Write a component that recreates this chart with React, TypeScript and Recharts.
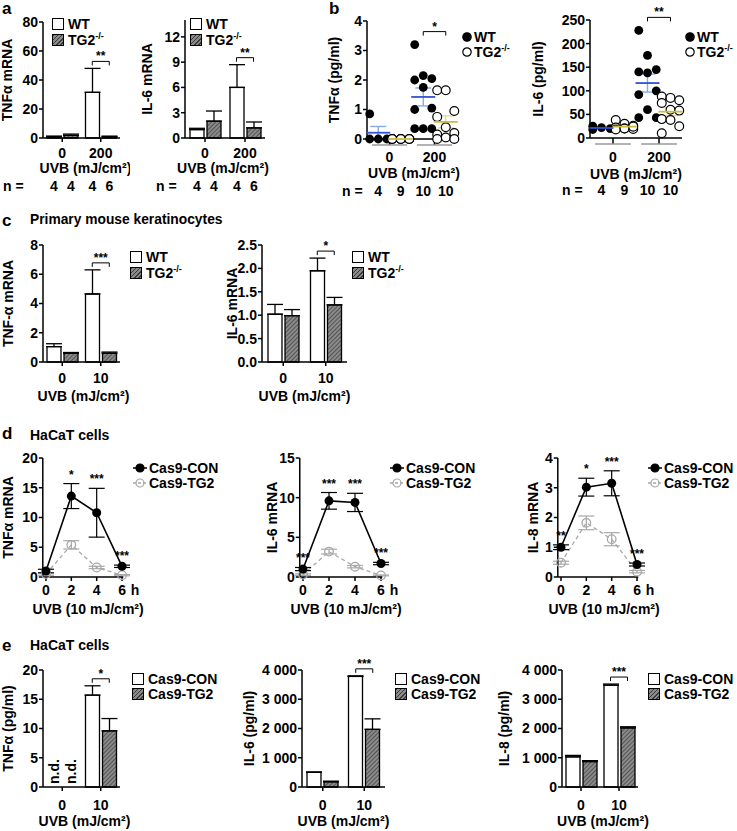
import React from 'react'
import {
  Bar,
  ComposedChart,
  ErrorBar,
  LabelList,
  Legend,
  Line,
  ReferenceDot,
  Scatter,
  ScatterChart,
  XAxis,
  YAxis,
} from 'recharts'

const FONT = '"Liberation Sans", Arial, Helvetica, sans-serif'
const FS = 14
const CAP = FS * 0.355
const GREY = '#a8a8a8'
const HATCH_BG = '#8a8a8a'
const HATCH_LINE = '#3c3c3c'
const BLUE = '#2f52d6'
const BLUE_SEM = '#86a8ee'
const OLIVE = '#c8bd3c'
const OLIVE_SEM = '#e2db8c'
const BAR_SIZE = 14
const BAR_GAP = 3
const AX = { stroke: '#000', strokeWidth: 1.5 }
const TICK = { fill: '#000', fontSize: FS }

const genotypes = ['WT', 'TG2-/-']
const clones = ['Cas9-CON', 'Cas9-TG2']

// a: skin mRNA after UVB
const dosesA = ['0', '200']
const nA_wt = [4, 4]
const nA_ko = [4, 6]
const tnfA_wt = [1.0, 31.5]
const tnfA_wtSem = [0.3, 16.5]
const tnfA_ko = [1.8, 0.9]
const tnfA_koSem = [0.9, 0.4]
const tnfA_ticks = [0, 20, 40, 60, 80]
const tnfA_sig = ['', '**']
const il6A_wt = [1.0, 6.0]
const il6A_wtSem = [0.15, 2.7]
const il6A_ko = [2.0, 1.2]
const il6A_koSem = [1.2, 0.7]
const il6A_ticks = [0, 3, 6, 9, 12]
const il6A_sig = ['', '**']

// b: serum cytokines, one value per mouse
const dosesB = ['0', '200']
const tnfB_wt0 = [0.85, 0, 0, 0]
const tnfB_ko0 = [0, 0, 0, 0, 0, 0, 0, 0, 0]
const tnfB_wt200 = [3.2, 2.15, 2.05, 2.0, 1.75, 1.05, 1.0, 0.35, 0.35, 0.35]
const tnfB_ko200 = [1.65, 1.65, 0.95, 0.75, 0.4, 0.2, 0.15, 0.05, 0, 0]
const tnfB_ticks = [0, 1, 2, 3, 4]
const il6B_wt0 = [25, 22, 20, 18]
const il6B_ko0 = [38, 30, 26, 22, 20, 19, 18, 20, 24]
const il6B_wt200 = [228, 175, 145, 140, 138, 100, 92, 60, 43, 43]
const il6B_ko200 = [88, 85, 80, 74, 60, 58, 40, 38, 25, 10]
const il6B_ticks = [0, 50, 100, 150, 200, 250]

// c: primary keratinocytes
const dosesC = ['0', '10']
const tnfC_wt = [1.05, 4.65]
const tnfC_wtSem = [0.2, 1.65]
const tnfC_ko = [0.6, 0.6]
const tnfC_koSem = [0.05, 0.08]
const tnfC_ticks = [0, 2, 4, 6, 8]
const tnfC_sig = ['', '***']
const il6C_wt = [1.02, 1.95]
const il6C_wtSem = [0.21, 0.27]
const il6C_ko = [0.99, 1.22]
const il6C_koSem = [0.13, 0.16]
const il6C_ticks = [0, 0.5, 1, 1.5, 2, 2.5]
const il6C_sig = ['', '*']

// d: HaCaT time course
const hours = [0, 2, 4, 6]
const tnfD_con = [1.0, 13.6, 10.8, 1.8]
const tnfD_conSem = [0.3, 2.1, 4.1, 0.2]
const tnfD_tg2 = [0.5, 5.4, 1.6, 0.3]
const tnfD_tg2Sem = [0.2, 0.7, 0.2, 0.1]
const tnfD_stars = ['', '*', '***', '***']
const tnfD_ticks = [0, 5, 10, 15, 20]
const il6D_con = [1.0, 9.6, 9.4, 1.7]
const il6D_conSem = [0.2, 1.05, 1.15, 0.15]
const il6D_tg2 = [0.3, 3.2, 1.3, 0.2]
const il6D_tg2Sem = [0.1, 0.3, 0.15, 0.05]
const il6D_stars = ['***', '***', '***', '***']
const il6D_ticks = [0, 5, 10, 15]
const il8D_con = [1.0, 3.02, 3.15, 0.42]
const il8D_conSem = [0.08, 0.3, 0.42, 0.05]
const il8D_tg2 = [0.48, 1.82, 1.27, 0.18]
const il8D_tg2Sem = [0.05, 0.23, 0.22, 0.04]
const il8D_stars = ['**', '*', '***', '***']
const il8D_ticks = [0, 1, 2, 3, 4]

// e: HaCaT secreted cytokines (null = not detected)
const dosesE = ['0', '10']
const tnfE_con = [null, 15.7]
const tnfE_conSem = [0, 1.6]
const tnfE_tg2 = [null, 9.6]
const tnfE_tg2Sem = [0, 2.1]
const tnfE_ticks = [0, 5, 10, 15, 20]
const tnfE_sig = ['', '*']
const il6E_con = [500, 3780]
const il6E_conSem = [15, 20]
const il6E_tg2 = [180, 1970]
const il6E_tg2Sem = [20, 360]
const il6E_sig = ['', '***']
const il8E_con = [1030, 3480]
const il8E_conSem = [50, 40]
const il8E_tg2 = [870, 2020]
const il8E_tg2Sem = [30, 40]
const il8E_sig = ['', '***']
const pgTicks = [0, 1000, 2000, 3000, 4000]

const hatchCss = `repeating-linear-gradient(135deg, ${HATCH_LINE} 0 1px, ${HATCH_BG} 1px 3px)`

const mean = (v: number[]) => v.reduce((s, x) => s + x, 0) / v.length
const sem = (v: number[]) => {
  const m = mean(v)
  const sd = Math.sqrt(v.reduce((s, x) => s + (x - m) ** 2, 0) / (v.length - 1))
  return sd / Math.sqrt(v.length)
}
const thousands = (v: number) => String(v).replace(/\B(?=(\d{3})+(?!\d))/g, ' ')
const oneDecimal = (v: number) => v.toFixed(1)

type Plot = { x0: number; y0: number; x1: number; y1: number }

function frame(plot: Plot, labelX: number, right: number, bottom: number, head = 30) {
  const left = Math.max(0, Math.floor(labelX - 12))
  const top = plot.y0 - head
  return {
    left,
    top,
    width: right - left,
    height: bottom - top,
    margin: { top: head, right: right - plot.x1, bottom: 0, left: 0 },
    yw: plot.x0 - left,
    xh: bottom - plot.y1,
    labelOffset: labelX - left,
  }
}

const yLabel = (value: string, offset: number) => ({
  value,
  angle: -90,
  position: 'insideLeft',
  offset,
  fill: '#000',
  fontSize: FS,
  style: { textAnchor: 'middle' },
})

const xLabel = (value: string, offset: number, dx = 0) => ({
  value,
  position: 'insideTop',
  offset,
  dx,
  fill: '#000',
  fontSize: FS,
})

function Name({ value }: { value: string }) {
  if (value.endsWith('-/-')) {
    return (
      <>
        {value.slice(0, -3)}
        <sup style={{ fontSize: '0.65em', lineHeight: 0 }}>-/-</sup>
      </>
    )
  }
  return <>{value}</>
}

function KeyMark({ kind, second }: { kind: string; second: boolean }) {
  if (kind === 'box') {
    return (
      <span
        style={{
          display: 'inline-block',
          width: 10,
          height: 10,
          border: '1px solid #000',
          background: second ? hatchCss : '#fff',
          marginRight: 4,
        }}
      />
    )
  }
  if (kind === 'dot') {
    return (
      <svg width={10} height={10} style={{ marginRight: 2 }}>
        <circle cx={5} cy={5} r={4.2} fill={second ? '#fff' : '#000'} stroke="#000" strokeWidth={1.2} />
      </svg>
    )
  }
  const c = second ? GREY : '#000'
  return (
    <svg width={14} height={10} style={{ marginRight: 2 }}>
      <line x1={0} x2={14} y1={5} y2={5} stroke={c} strokeWidth={1.5} strokeDasharray={second ? '3 2' : undefined} />
      <circle cx={7} cy={5} r={4} fill={second ? 'none' : '#000'} stroke={c} strokeWidth={1.2} />
    </svg>
  )
}

function Key({ names, kind, gap }: { names: string[]; kind: string; gap: number }) {
  return (
    <div style={{ fontSize: FS, fontWeight: 700, color: '#000', lineHeight: 1 }}>
      {names.map((name, i) => (
        <div key={name} style={{ display: 'flex', alignItems: 'center', height: gap, whiteSpace: 'nowrap' }}>
          <KeyMark kind={kind} second={i === 1} />
          <span>
            <Name value={name} />
          </span>
        </div>
      ))}
    </div>
  )
}

function PageText({ x, y, size = FS, children }: { x: number; y: number; size?: number; children: React.ReactNode }) {
  return (
    <div style={{ position: 'absolute', left: x, top: y - size / 2, fontSize: size, lineHeight: `${size}px`, whiteSpace: 'nowrap' }}>
      {children}
    </div>
  )
}

// n per group, written on one row under the axis label
const nLabel = (rowY: number) => (props: any) => {
  const vb = props.viewBox || props
  if (props.value === '' || props.value == null) return null
  const cx = vb.cx != null ? vb.cx : vb.x + (vb.width || 0) / 2
  return (
    <text x={cx} y={rowY} textAnchor="middle" fontSize={FS} fill="#000">
      {props.value}
    </text>
  )
}

const bracket = (text: string, half: number, lift: number) => (d: any) => {
  const y = d.cy - lift
  return (
    <g>
      <path d={`M${d.cx - half},${y + 4}V${y}H${d.cx + half}V${y + 4}`} fill="none" stroke="#000" strokeWidth={1} />
      <text x={d.cx} y={y - 1} textAnchor="middle" fontSize={12} fill="#000">
        {text}
      </text>
    </g>
  )
}

// "n.d." written upright on the baseline where a bar is missing
const notDetected = (left: boolean, right: boolean, half: number) => (d: any) => {
  const one = (cx: number) => {
    const x = cx + CAP
    const y = d.cy - 3
    return (
      <text x={x} y={y} transform={`rotate(-90 ${x} ${y})`} fontSize={FS} fill="#000">
        n.d.
      </text>
    )
  }
  return (
    <g>
      {left && one(d.cx - half)}
      {right && one(d.cx + half)}
    </g>
  )
}

const starShape = (text: string) => (d: any) => (
  <text x={d.cx} y={d.cy - 5} textAnchor="middle" fontSize={12} fill="#000">
    {text}
  </text>
)

type BarPanelProps = {
  plot: Plot
  labelX: number
  right: number
  bottom: number
  yLabel: string
  xLabel: string
  yMax: number
  ticks: number[]
  tickFormat?: (v: number) => string
  doses: string[]
  con: (number | null)[]
  conSem: number[]
  ko: (number | null)[]
  koSem: number[]
  sig: string[]
  names: string[]
  legendAt: { x: number; y: number }
  legendGap: number
  tickLabelY: number
  xLabelY: number
  xLabelDx?: number
  n?: { y: number; con: number[]; ko: number[] }
}

function BarPanel(p: BarPanelProps) {
  const f = frame(p.plot, p.labelX, p.right, p.bottom)
  const half = (BAR_SIZE + BAR_GAP) / 2
  const rows = p.doses.map((dose, i) => ({
    dose,
    con: p.con[i],
    conErr: [0, p.conSem[i]],
    conN: p.n ? p.n.con[i] : '',
    ko: p.ko[i],
    koErr: [0, p.koSem[i]],
    koN: p.n ? p.n.ko[i] : '',
  }))
  const rowY = p.n ? p.n.y + CAP - f.top : 0
  return (
    <div style={{ position: 'absolute', left: f.left, top: f.top }}>
      <ComposedChart width={f.width} height={f.height} data={rows} margin={f.margin} barSize={BAR_SIZE} barGap={BAR_GAP}>
        <defs>
          <pattern id="hatch" width={3} height={3} patternUnits="userSpaceOnUse" patternTransform="rotate(45)">
            <rect width={3} height={3} fill={HATCH_BG} />
            <line x1={0} y1={0} x2={0} y2={3} stroke={HATCH_LINE} strokeWidth={1.4} />
          </pattern>
        </defs>
        <XAxis
          dataKey="dose"
          height={f.xh}
          stroke="#000"
          axisLine={AX}
          tickLine={AX}
          tickSize={4}
          tickMargin={p.tickLabelY - p.plot.y1 - 4 - CAP}
          tick={TICK}
          label={xLabel(p.xLabel, p.xLabelY - CAP - p.plot.y1, p.xLabelDx)}
        />
        <YAxis
          width={f.yw}
          domain={[0, p.yMax]}
          ticks={p.ticks}
          interval={0}
          tickFormatter={p.tickFormat}
          stroke="#000"
          axisLine={AX}
          tickLine={AX}
          tickSize={4}
          tickMargin={1}
          tick={TICK}
          label={yLabel(p.yLabel, f.labelOffset)}
        />
        <Bar dataKey="con" name={p.names[0]} fill="#fff" stroke="#000" strokeWidth={1.3} isAnimationActive={false}>
          <ErrorBar dataKey="conErr" width={8} stroke="#000" strokeWidth={1.3} isAnimationActive={false} />
          {p.n && <LabelList dataKey="conN" content={nLabel(rowY)} />}
        </Bar>
        <Bar dataKey="ko" name={p.names[1]} fill="url(#hatch)" stroke="#000" strokeWidth={1.3} isAnimationActive={false}>
          <ErrorBar dataKey="koErr" width={8} stroke="#000" strokeWidth={1.3} isAnimationActive={false} />
          {p.n && <LabelList dataKey="koN" content={nLabel(rowY)} />}
        </Bar>
        {p.doses.map((dose, i) =>
          p.con[i] == null || p.ko[i] == null ? (
            <ReferenceDot
              key={`nd${dose}`}
              x={dose}
              y={0}
              r={0}
              ifOverflow="visible"
              shape={notDetected(p.con[i] == null, p.ko[i] == null, half)}
            />
          ) : null,
        )}
        {p.doses.map((dose, i) =>
          p.sig[i] ? (
            <ReferenceDot
              key={dose}
              x={dose}
              y={Math.max((p.con[i] ?? 0) + p.conSem[i], (p.ko[i] ?? 0) + p.koSem[i])}
              r={0}
              ifOverflow="visible"
              shape={bracket(p.sig[i], half, 7)}
            />
          ) : null,
        )}
        <Legend
          layout="vertical"
          align="center"
          verticalAlign="middle"
          wrapperStyle={{ left: p.legendAt.x - f.left, top: p.legendAt.y - p.legendGap / 2 - f.top }}
          content={() => <Key names={p.names} kind="box" gap={p.legendGap} />}
        />
      </ComposedChart>
    </div>
  )
}

type ScatterPanelProps = {
  plot: Plot
  labelX: number
  right: number
  bottom: number
  yLabel: string
  yMax: number
  ticks: number[]
  doses: string[]
  wt: number[][]
  ko: number[][]
  sig: string
  legendAt: { x: number; y: number }
  tickLabelY: number
  xLabelY: number
  xLabelDx?: number
  nY: number
}

const jitter = (i: number) => ((i % 3) - 1) * 0.38

const filledDot = (d: any) => <circle cx={d.cx} cy={d.cy} r={4.4} fill="#000" />
const openDot = (d: any) => <circle cx={d.cx} cy={d.cy} r={4.4} fill="#fff" stroke="#000" strokeWidth={1.2} />
const meanLine = (color: string) => (d: any) => (
  <line x1={d.cx - 12} x2={d.cx + 12} y1={d.cy} y2={d.cy} stroke={color} strokeWidth={1.8} />
)

const groupTick = (labels: string[], half: number, dy: number) => (t: any) => (
  <g>
    <line x1={t.x - half} x2={t.x + half} y1={t.y} y2={t.y} stroke="#9a9a9a" strokeWidth={1.5} />
    <text x={t.x} y={t.y + dy} textAnchor="middle" fontSize={FS} fill="#000">
      {labels[t.index]}
    </text>
  </g>
)

function ScatterPanel(p: ScatterPanelProps) {
  const f = frame(p.plot, p.labelX, p.right, p.bottom)
  const unit = (p.plot.x1 - p.plot.x0) / 4
  const pts = (groups: number[][], base: number) =>
    groups.flatMap((g, gi) => g.map((y, i) => ({ x: base + gi * 2 + jitter(i), y })))
  const means = (groups: number[][], base: number) =>
    groups.map((g, gi) => ({ x: base + gi * 2, y: mean(g), sem: sem(g), n: g.length }))
  const highest = Math.max(...p.wt[1], ...p.ko[1])
  const rowY = p.nY + CAP - f.top
  return (
    <div style={{ position: 'absolute', left: f.left, top: f.top }}>
      <ScatterChart width={f.width} height={f.height} margin={f.margin}>
        <XAxis
          type="number"
          dataKey="x"
          domain={[0.5, 4.5]}
          ticks={[1.5, 3.5]}
          interval={0}
          height={f.xh}
          stroke="#000"
          axisLine={AX}
          tickLine={AX}
          tickSize={6}
          tickMargin={0}
          tick={groupTick(p.doses, unit * 0.78, p.tickLabelY + CAP - p.plot.y1 - 6)}
          label={xLabel('UVB (mJ/cm²)', p.xLabelY - CAP - p.plot.y1, p.xLabelDx)}
        />
        <YAxis
          type="number"
          dataKey="y"
          width={f.yw}
          domain={[0, p.yMax]}
          ticks={p.ticks}
          interval={0}
          stroke="#000"
          axisLine={AX}
          tickLine={AX}
          tickSize={4}
          tickMargin={1}
          tick={TICK}
          label={yLabel(p.yLabel, f.labelOffset)}
        />
        <Scatter name={genotypes[0]} data={pts(p.wt, 1)} shape={filledDot} isAnimationActive={false} />
        <Scatter name={genotypes[1]} data={pts(p.ko, 2)} shape={openDot} isAnimationActive={false} />
        <Scatter data={means(p.wt, 1)} legendType="none" shape={meanLine(BLUE)} isAnimationActive={false}>
          <ErrorBar dataKey="sem" direction="y" width={8} stroke={BLUE_SEM} strokeWidth={1.4} isAnimationActive={false} />
          <LabelList dataKey="n" content={nLabel(rowY)} />
        </Scatter>
        <Scatter data={means(p.ko, 2)} legendType="none" shape={meanLine(OLIVE)} isAnimationActive={false}>
          <ErrorBar dataKey="sem" direction="y" width={8} stroke={OLIVE_SEM} strokeWidth={1.4} isAnimationActive={false} />
          <LabelList dataKey="n" content={nLabel(rowY)} />
        </Scatter>
        <ReferenceDot x={3.5} y={highest} r={0} ifOverflow="visible" shape={bracket(p.sig, unit / 2, 13)} />
        <Legend
          layout="vertical"
          align="center"
          verticalAlign="middle"
          wrapperStyle={{ left: p.legendAt.x - f.left, top: p.legendAt.y - 7.5 - f.top }}
          content={() => <Key names={genotypes} kind="dot" gap={15} />}
        />
      </ScatterChart>
    </div>
  )
}

type TimePanelProps = {
  plot: Plot
  labelX: number
  right: number
  bottom: number
  yLabel: string
  yMax: number
  ticks: number[]
  con: number[]
  conSem: number[]
  tg2: number[]
  tg2Sem: number[]
  stars: string[]
  legendAt: { x: number; y: number }
  tickLabelY: number
  xLabelY: number
  xLabelDx?: number
}

const hourTick = (t: any) => (
  <g>
    <text x={t.x} y={t.y} dy="0.71em" textAnchor="middle" fontSize={FS} fill="#000">
      {t.payload.value}
    </text>
    {t.index === hours.length - 1 && (
      <text x={t.x + 13} y={t.y} dy="0.71em" textAnchor="middle" fontSize={FS} fill="#000">
        h
      </text>
    )}
  </g>
)

const conDot = (d: any) => <circle key={`c${d.index}`} cx={d.cx} cy={d.cy} r={4.5} fill="#000" />
const tg2Dot = (d: any) => (
  <circle key={`t${d.index}`} cx={d.cx} cy={d.cy} r={4.3} fill="none" stroke={GREY} strokeWidth={1.3} />
)

function TimePanel(p: TimePanelProps) {
  const f = frame(p.plot, p.labelX, p.right, p.bottom)
  const rows = hours.map((t, i) => ({
    t,
    con: p.con[i],
    conErr: p.conSem[i],
    tg2: p.tg2[i],
    tg2Err: p.tg2Sem[i],
  }))
  return (
    <div style={{ position: 'absolute', left: f.left, top: f.top }}>
      <ComposedChart width={f.width} height={f.height} data={rows} margin={f.margin}>
        <XAxis
          type="number"
          dataKey="t"
          domain={[-0.25, 6.1]}
          ticks={hours}
          interval={0}
          height={f.xh}
          stroke="#000"
          axisLine={AX}
          tickLine={AX}
          tickSize={4}
          tickMargin={p.tickLabelY - CAP - p.plot.y1 - 4}
          tick={hourTick}
          label={xLabel('UVB (10 mJ/cm²)', p.xLabelY - CAP - p.plot.y1, p.xLabelDx)}
        />
        <YAxis
          width={f.yw}
          domain={[0, p.yMax]}
          ticks={p.ticks}
          interval={0}
          stroke="#000"
          axisLine={AX}
          tickLine={AX}
          tickSize={4}
          tickMargin={1}
          tick={TICK}
          label={yLabel(p.yLabel, f.labelOffset)}
        />
        <Line
          dataKey="tg2"
          name={clones[1]}
          stroke={GREY}
          strokeWidth={1.3}
          strokeDasharray="4 3"
          dot={tg2Dot}
          isAnimationActive={false}
        >
          <ErrorBar dataKey="tg2Err" width={8} stroke={GREY} strokeWidth={1.2} isAnimationActive={false} />
        </Line>
        <Line dataKey="con" name={clones[0]} stroke="#000" strokeWidth={1.6} dot={conDot} isAnimationActive={false}>
          <ErrorBar dataKey="conErr" width={8} stroke="#000" strokeWidth={1.2} isAnimationActive={false} />
        </Line>
        {p.stars.map((s, i) =>
          s ? (
            <ReferenceDot
              key={i}
              x={hours[i]}
              y={p.con[i] + p.conSem[i]}
              r={0}
              ifOverflow="visible"
              shape={starShape(s)}
            />
          ) : null,
        )}
        <Legend
          layout="vertical"
          align="center"
          verticalAlign="middle"
          wrapperStyle={{ left: p.legendAt.x - f.left, top: p.legendAt.y - 7.5 - f.top }}
          content={() => <Key names={clones} kind="line" gap={15} />}
        />
      </ComposedChart>
    </div>
  )
}

export default function App() {
  return (
    <div
      style={{
        position: 'absolute',
        left: 0,
        top: 0,
        width: 737,
        height: 831,
        background: '#fff',
        fontFamily: FONT,
        fontWeight: 700,
        color: '#000',
        overflow: 'hidden',
      }}
    >
      <PageText x={2} y={8} size={17}>a</PageText>
      <PageText x={329} y={8} size={17}>b</PageText>
      <PageText x={2} y={220} size={17}>c</PageText>
      <PageText x={30} y={220} size={13.8}>Primary mouse keratinocytes</PageText>
      <PageText x={2} y={433} size={17}>d</PageText>
      <PageText x={30} y={435} size={14}>HaCaT cells</PageText>
      <PageText x={2} y={645} size={17}>e</PageText>
      <PageText x={30} y={645} size={14}>HaCaT cells</PageText>
      <PageText x={3} y={186}>n =</PageText>
      <PageText x={156} y={186}>n =</PageText>
      <PageText x={342} y={191}>n =</PageText>
      <PageText x={562} y={190}>n =</PageText>

      <BarPanel
        plot={{ x0: 43, y0: 22, x1: 120, y1: 138 }}
        labelX={7}
        right={130}
        bottom={198}
        yLabel="TNFα mRNA"
        xLabel="UVB (mJ/cm²)"
        yMax={80}
        ticks={tnfA_ticks}
        doses={dosesA}
        con={tnfA_wt}
        conSem={tnfA_wtSem}
        ko={tnfA_ko}
        koSem={tnfA_koSem}
        sig={tnfA_sig}
        names={genotypes}
        legendAt={{ x: 52, y: 24 }}
        legendGap={16}
        tickLabelY={153}
        xLabelY={168}
        xLabelDx={4}
        n={{ y: 186, con: nA_wt, ko: nA_ko }}
      />
      <BarPanel
        plot={{ x0: 185, y0: 20, x1: 265, y1: 138 }}
        labelX={147.5}
        right={275}
        bottom={198}
        yLabel="IL-6 mRNA"
        xLabel="UVB (mJ/cm²)"
        yMax={14}
        ticks={il6A_ticks}
        doses={dosesA}
        con={il6A_wt}
        conSem={il6A_wtSem}
        ko={il6A_ko}
        koSem={il6A_koSem}
        sig={il6A_sig}
        names={genotypes}
        legendAt={{ x: 190, y: 24 }}
        legendGap={16}
        tickLabelY={153}
        xLabelY={168}
        xLabelDx={-2}
        n={{ y: 186, con: nA_wt, ko: nA_ko }}
      />

      <ScatterPanel
        plot={{ x0: 367, y0: 21, x1: 457, y1: 139 }}
        labelX={334}
        right={530}
        bottom={202}
        yLabel="TNFα (pg/ml)"
        yMax={4}
        ticks={tnfB_ticks}
        doses={dosesB}
        wt={[tnfB_wt0, tnfB_wt200]}
        ko={[tnfB_ko0, tnfB_ko200]}
        sig="*"
        legendAt={{ x: 462, y: 37 }}
        tickLabelY={157}
        xLabelY={173}
        xLabelDx={2}
        nY={191}
      />
      <ScatterPanel
        plot={{ x0: 590, y0: 20, x1: 682, y1: 138 }}
        labelX={538}
        right={737}
        bottom={202}
        yLabel="IL-6 (pg/ml)"
        yMax={250}
        ticks={il6B_ticks}
        doses={dosesB}
        wt={[il6B_wt0, il6B_wt200]}
        ko={[il6B_ko0, il6B_ko200]}
        sig="**"
        legendAt={{ x: 685, y: 37 }}
        tickLabelY={157}
        xLabelY={174}
        nY={190}
      />

      <BarPanel
        plot={{ x0: 43, y0: 245, x1: 120, y1: 362 }}
        labelX={8}
        right={185}
        bottom={412}
        yLabel="TNF-α mRNA"
        xLabel="UVB (mJ/cm²)"
        yMax={8}
        ticks={tnfC_ticks}
        doses={dosesC}
        con={tnfC_wt}
        conSem={tnfC_wtSem}
        ko={tnfC_ko}
        koSem={tnfC_koSem}
        sig={tnfC_sig}
        names={genotypes}
        legendAt={{ x: 130, y: 257 }}
        legendGap={16}
        tickLabelY={378}
        xLabelY={396}
        xLabelDx={2}
      />
      <BarPanel
        plot={{ x0: 262, y0: 245, x1: 347, y1: 362 }}
        labelX={232}
        right={420}
        bottom={412}
        yLabel="IL-6 mRNA"
        xLabel="UVB (mJ/cm²)"
        yMax={2.5}
        ticks={il6C_ticks}
        tickFormat={oneDecimal}
        doses={dosesC}
        con={il6C_wt}
        conSem={il6C_wtSem}
        ko={il6C_ko}
        koSem={il6C_koSem}
        sig={il6C_sig}
        names={genotypes}
        legendAt={{ x: 352, y: 257 }}
        legendGap={16}
        tickLabelY={378}
        xLabelY={396}
      />

      <TimePanel
        plot={{ x0: 42.8, y0: 458, x1: 123.3, y1: 577 }}
        labelX={8}
        right={235}
        bottom={622}
        yLabel="TNFα mRNA"
        yMax={20}
        ticks={tnfD_ticks}
        con={tnfD_con}
        conSem={tnfD_conSem}
        tg2={tnfD_tg2}
        tg2Sem={tnfD_tg2Sem}
        stars={tnfD_stars}
        legendAt={{ x: 133, y: 468 }}
        tickLabelY={590}
        xLabelY={609}
        xLabelDx={5}
      />
      <TimePanel
        plot={{ x0: 299.75, y0: 458, x1: 382.3, y1: 577 }}
        labelX={272}
        right={490}
        bottom={622}
        yLabel="IL-6 mRNA"
        yMax={15}
        ticks={il6D_ticks}
        con={il6D_con}
        conSem={il6D_conSem}
        tg2={il6D_tg2}
        tg2Sem={il6D_tg2Sem}
        stars={il6D_stars}
        legendAt={{ x: 390, y: 468 }}
        tickLabelY={590}
        xLabelY={609}
        xLabelDx={5}
      />
      <TimePanel
        plot={{ x0: 557.8, y0: 458, x1: 638.3, y1: 577 }}
        labelX={533}
        right={737}
        bottom={622}
        yLabel="IL-8 mRNA"
        yMax={4}
        ticks={il8D_ticks}
        con={il8D_con}
        conSem={il8D_conSem}
        tg2={il8D_tg2}
        tg2Sem={il8D_tg2Sem}
        stars={il8D_stars}
        legendAt={{ x: 648, y: 468 }}
        tickLabelY={590}
        xLabelY={609}
        xLabelDx={6}
      />

      <BarPanel
        plot={{ x0: 43, y0: 670, x1: 120, y1: 787 }}
        labelX={8}
        right={240}
        bottom={831}
        yLabel="TNFα (pg/ml)"
        xLabel="UVB (mJ/cm²)"
        yMax={20}
        ticks={tnfE_ticks}
        doses={dosesE}
        con={tnfE_con}
        conSem={tnfE_conSem}
        ko={tnfE_tg2}
        koSem={tnfE_tg2Sem}
        sig={tnfE_sig}
        names={clones}
        legendAt={{ x: 132, y: 679 }}
        legendGap={15}
        tickLabelY={805}
        xLabelY={821}
        xLabelDx={3}
      />
      <BarPanel
        plot={{ x0: 302, y0: 670, x1: 385, y1: 787 }}
        labelX={249}
        right={500}
        bottom={831}
        yLabel="IL-6 (pg/ml)"
        xLabel="UVB (mJ/cm²)"
        yMax={4000}
        ticks={pgTicks}
        tickFormat={thousands}
        doses={dosesE}
        con={il6E_con}
        conSem={il6E_conSem}
        ko={il6E_tg2}
        koSem={il6E_tg2Sem}
        sig={il6E_sig}
        names={clones}
        legendAt={{ x: 395, y: 679 }}
        legendGap={15}
        tickLabelY={805}
        xLabelY={821}
      />
      <BarPanel
        plot={{ x0: 562, y0: 670, x1: 638, y1: 787 }}
        labelX={504}
        right={737}
        bottom={831}
        yLabel="IL-8 (pg/ml)"
        xLabel="UVB (mJ/cm²)"
        yMax={4000}
        ticks={pgTicks}
        tickFormat={thousands}
        doses={dosesE}
        con={il8E_con}
        conSem={il8E_conSem}
        ko={il8E_tg2}
        koSem={il8E_tg2Sem}
        sig={il8E_sig}
        names={clones}
        legendAt={{ x: 648, y: 679 }}
        legendGap={15}
        tickLabelY={805}
        xLabelY={821}
        xLabelDx={3}
      />
    </div>
  )
}
